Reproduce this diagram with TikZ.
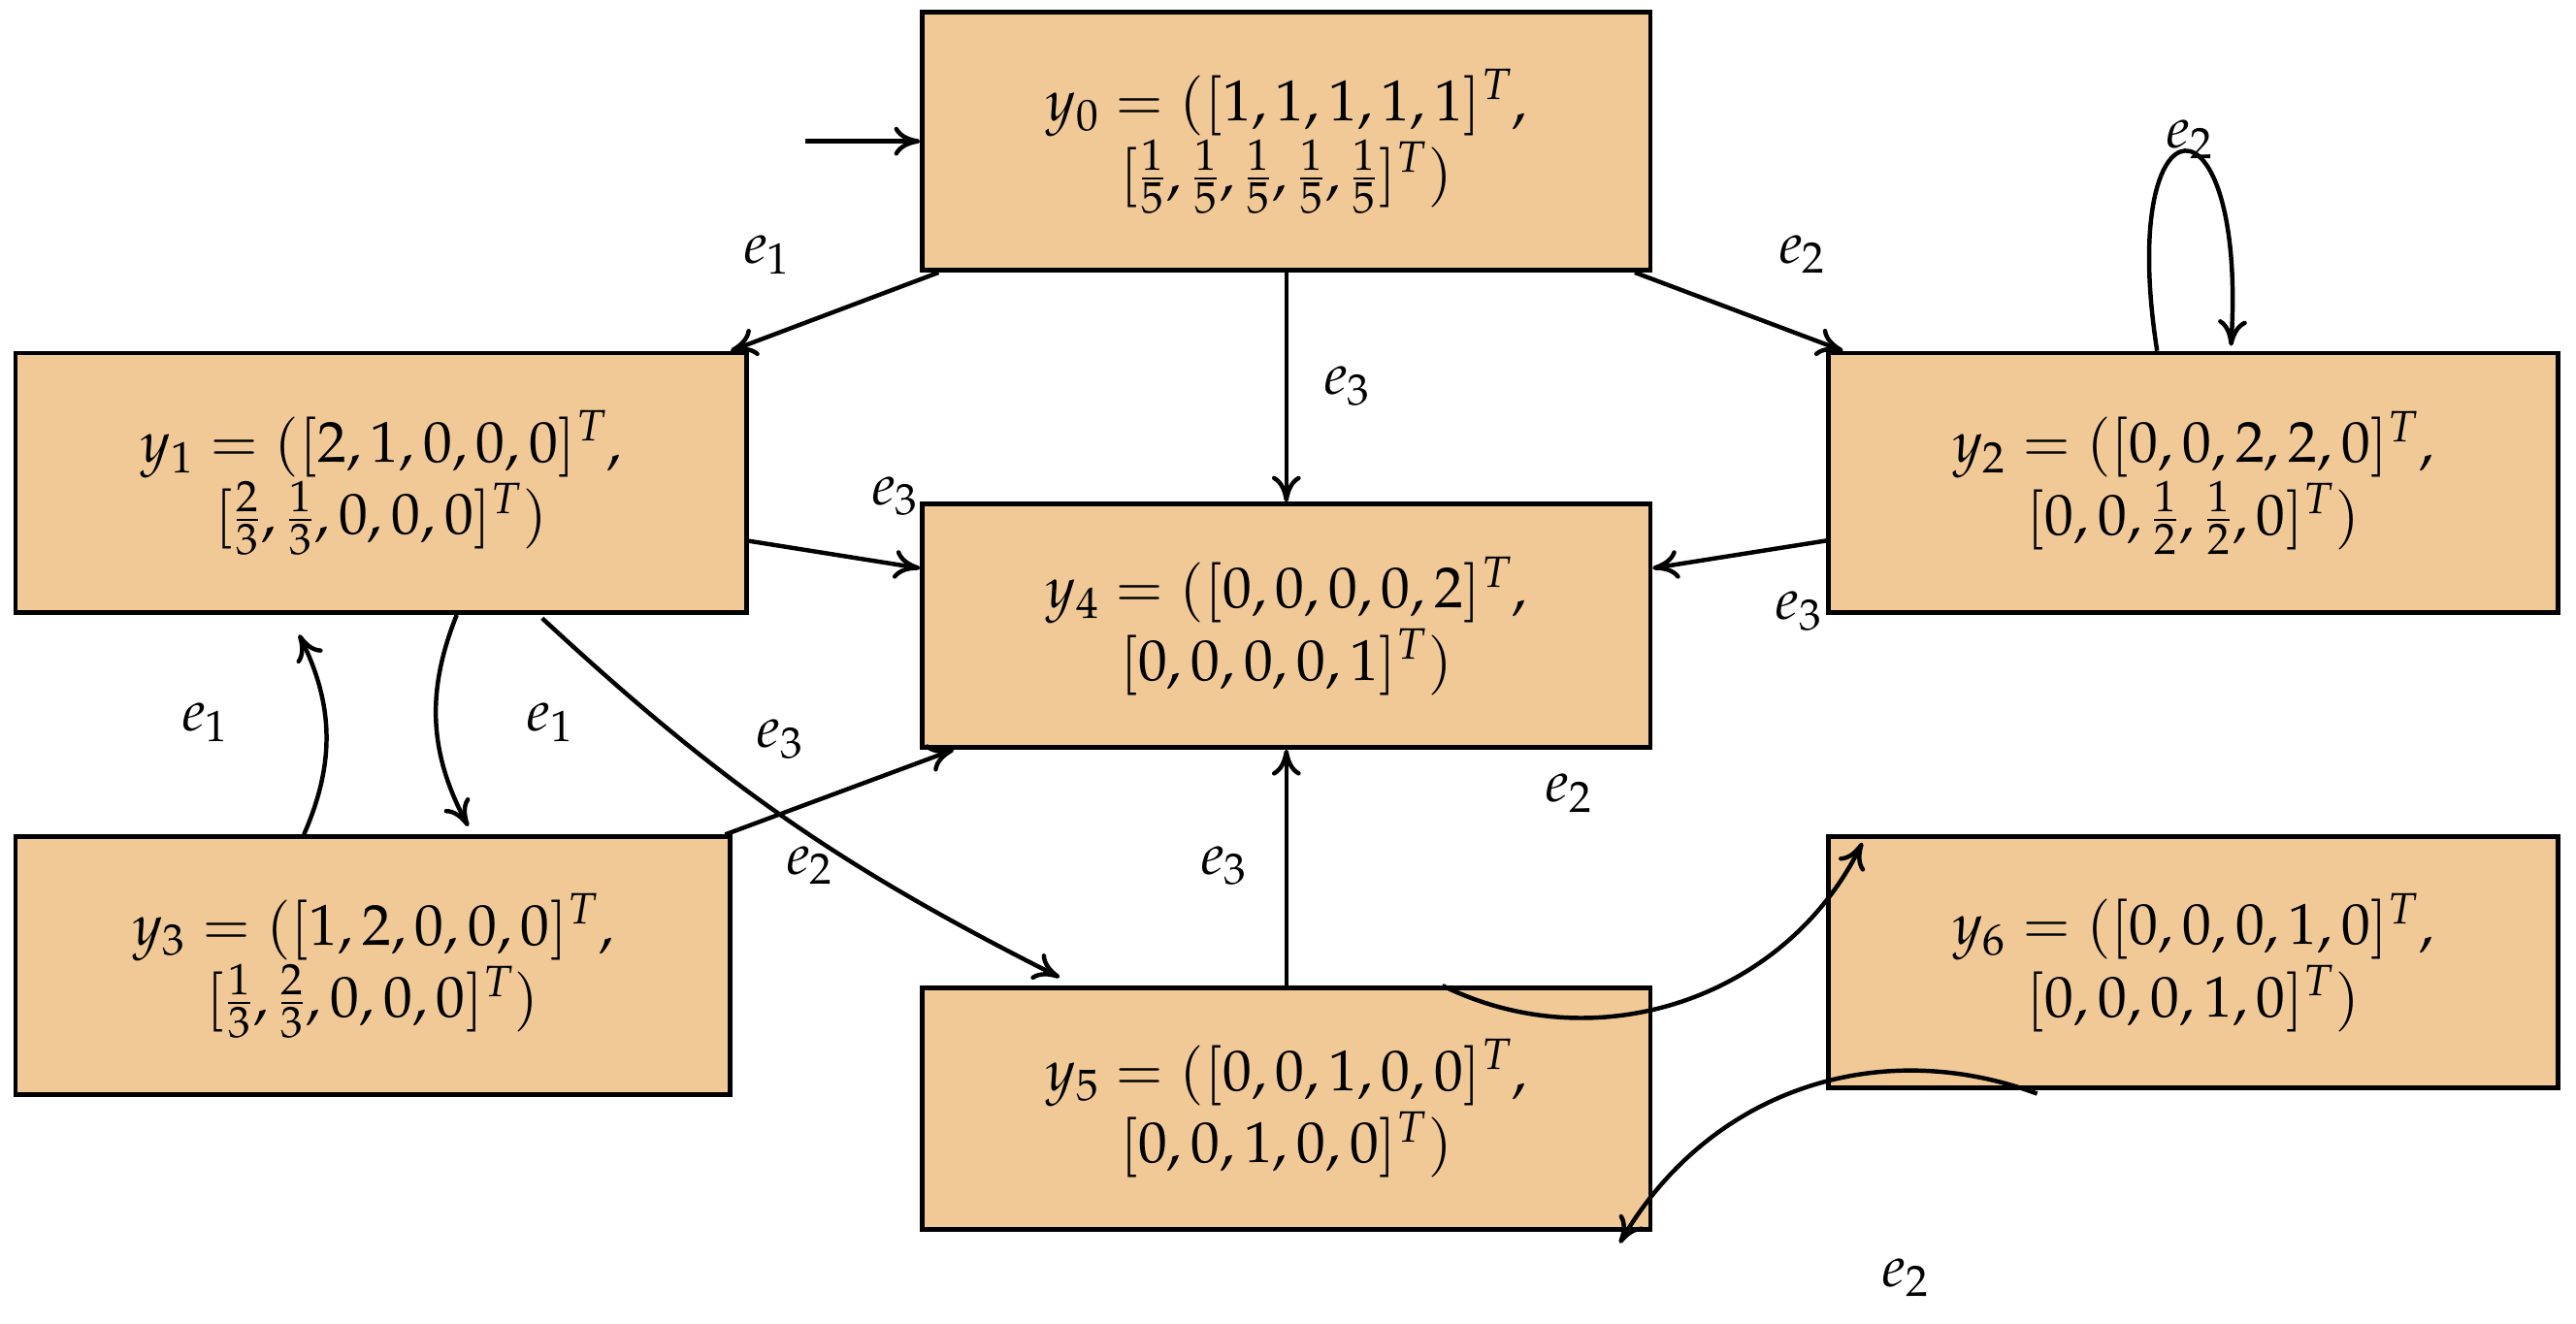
\documentclass[tikz,border=0pt]{standalone}
\usepackage{amsmath}
\usepackage{mathpazo}
\usetikzlibrary{arrows.meta,calc}
\definecolor{boxc}{RGB}{240,201,150}
\begin{document}
\begin{tikzpicture}[x=0.02cm,y=-0.02cm,
  st/.style={draw,fill=boxc,line width=1.6pt,inner sep=0pt,align=center,font=\fontsize{20}{25}\selectfont},
  ar/.style={line width=1.5pt,-{To[length=9pt,width=10pt]}},
  lb/.style={font=\fontsize{20}{24}\selectfont,inner sep=0pt}]
\useasboundingbox (0,0) rectangle (1568,806);
\node[st,minimum width=443*0.02cm,minimum height=157*0.02cm] (y0) at (783,86) {$y_0=([1,1,1,1,1]^T,$\\$[\tfrac15,\tfrac15,\tfrac15,\tfrac15,\tfrac15]^T)$};
\node[st,minimum width=445*0.02cm,minimum height=158*0.02cm] (y1) at (232,294) {$y_1=([2,1,0,0,0]^T,$\\$[\tfrac23,\tfrac13,0,0,0]^T)$};
\node[st,minimum width=444*0.02cm,minimum height=158*0.02cm] (y2) at (1335,294) {$y_2=([0,0,2,2,0]^T,$\\$[0,0,\tfrac12,\tfrac12,0]^T)$};
\node[st,minimum width=443*0.02cm,minimum height=148*0.02cm] (y4) at (783,381) {$y_4=([0,0,0,0,2]^T,$\\$[0,0,0,0,1]^T)$};
\node[st,minimum width=435*0.02cm,minimum height=157*0.02cm] (y3) at (227,588) {$y_3=([1,2,0,0,0]^T,$\\$[\tfrac13,\tfrac23,0,0,0]^T)$};
\node[st,minimum width=443*0.02cm,minimum height=147*0.02cm] (y5) at (783,675) {$y_5=([0,0,1,0,0]^T,$\\$[0,0,1,0,0]^T)$};
\node[st,minimum width=444*0.02cm,minimum height=153*0.02cm] (y6) at (1335,586) {$y_6=([0,0,0,1,0]^T,$\\$[0,0,0,1,0]^T)$};
\coordinate (s) at (490,86);
\draw[ar] (s) -- (y0);
\draw[ar] (y0) -- (y1);
\draw[ar] (y0) -- (y2);
\draw[ar] (y0) -- (y4);
\draw[ar] (y1) -- (y4);
\draw[ar] (y2) -- (y4);
\draw[ar] (y3) -- (y4);
\draw[ar] (y5) -- (y4);
\draw[ar] ($(y2.north)+(-22,0)$) .. controls +(-25,-160) and +(10,-160) .. ($(y2.north)+(23,-3)$);
\draw[ar] ($(y1.south)+(46,0)$) to[bend right=25] ($(y3.north)+(58,-5)$);
\draw[ar] ($(y3.north)+(-42,0)$) to[bend right=25] ($(y1.south)+(-50,12)$);
\draw[ar] ($(y1.south)+(98,2)$) to[bend right=8] ($(y5.north)+(-138,-5)$);
\draw[ar] ($(y5.north)+(95,0)$) to[bend right=45] ($(y6.north west)+(22,5)$);
\draw[ar] ($(y6.south)+(-95,2)$) to[bend right=40] ($(y5.south east)+(-20,7)$);
\node[lb] (l1) at (467,155) {$e_1$};
\node[lb] (l2) at (1097,155) {$e_2$};
\node[lb] (l3) at (820,235) {$e_3$};
\node[lb] (l4) at (1333,85) {$e_2$};
\node[lb] (l5) at (545,302) {$e_3$};
\node[lb] (l6) at (1095,372) {$e_3$};
\node[lb] (l7) at (335,440) {$e_1$};
\node[lb] (l8) at (125,440) {$e_1$};
\node[lb] (l9) at (475,450) {$e_3$};
\node[lb] (l10) at (493,527) {$e_2$};
\node[lb] (l11) at (745,527) {$e_3$};
\node[lb] (l12) at (955,483) {$e_2$};
\node[lb] (l13) at (1160,778) {$e_2$};
\end{tikzpicture}
\end{document}
